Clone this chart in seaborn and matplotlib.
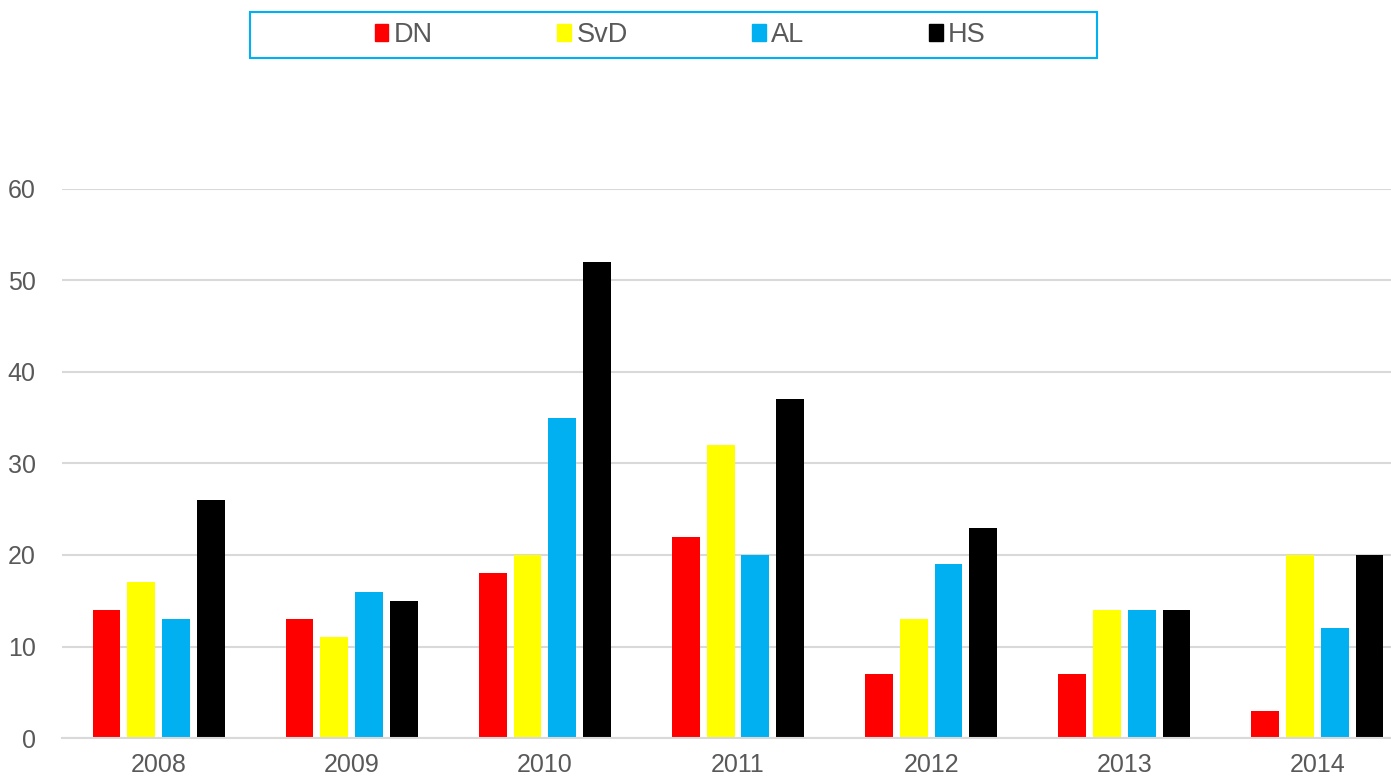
import matplotlib
matplotlib.use('Agg')
import matplotlib.pyplot as plt
import matplotlib.patches as mpatches
import seaborn as sns
import pandas as pd

years = ['2008', '2009', '2010', '2011', '2012', '2013', '2014']
papers = ['DN', 'SvD', 'AL', 'HS']
dn = [14, 13, 18, 22, 7, 7, 3]
svd = [17, 11, 20, 32, 13, 14, 20]
al = [13, 16, 35, 20, 19, 14, 12]
hs = [26, 15, 52, 37, 23, 14, 20]
colors = ['#FF0000', '#FFFF00', '#00B0F0', '#000000']

sns.set_theme(style='white')
plt.rcParams['font.family'] = ['Liberation Sans', 'DejaVu Sans']

rows = []
for name, vals in zip(papers, [dn, svd, al, hs]):
    for y, v in zip(years, vals):
        rows.append({'year': y, 'paper': name, 'count': v})
df = pd.DataFrame(rows)

fig = plt.figure(figsize=(13.91, 7.76), dpi=100)
# the plot area runs a little past the right edge, as in the original
ax = fig.add_axes([62 / 1391, 1 - 738 / 776, (1414 - 62) / 1391, (738 - 189) / 776])

sns.barplot(data=df, x='year', y='count', hue='paper', order=years, hue_order=papers,
            palette=colors, width=0.72, gap=0.2, linewidth=0, saturation=1,
            ax=ax, legend=False)

ax.set_xlim(-0.5, 6.5)
ax.set_ylim(0, 60)
ax.set_yticks(range(0, 61, 10))
ax.yaxis.grid(True, color='#D9D9D9', linewidth=1.5)
ax.set_axisbelow(True)
for side in ['left', 'right', 'top']:
    ax.spines[side].set_visible(False)
ax.spines['bottom'].set_color('#D9D9D9')
ax.spines['bottom'].set_linewidth(1.5)
ax.tick_params(axis='both', length=0, labelsize=18, labelcolor='#595959')
ax.tick_params(axis='y', pad=19)
ax.tick_params(axis='x', pad=11)
ax.set_xlabel('')
ax.set_ylabel('')

# legend with its own frame
handles = [mpatches.Patch(color=c, label=p) for c, p in zip(colors, papers)]
leg = fig.legend(handles=handles, loc='center', bbox_to_anchor=(0.489, 1 - 35 / 776),
                 ncol=4, frameon=False, fontsize=19.5, handlelength=0.5, handleheight=0.6,
                 handletextpad=0.2, columnspacing=4.6)
for t in leg.get_texts():
    t.set_color('#595959')
frame = mpatches.Rectangle((250 / 1391, 1 - 58 / 776), (1097 - 250) / 1391, 46 / 776,
                           transform=fig.transFigure, fill=False, edgecolor='#00B0F0',
                           linewidth=1.5)
fig.patches.append(frame)

plt.savefig('out.png', dpi=100)
